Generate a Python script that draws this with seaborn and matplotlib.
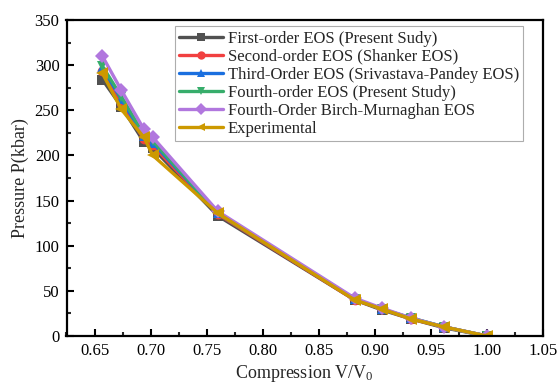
import numpy as np
import pandas as pd
import matplotlib
matplotlib.use("Agg")
import matplotlib.pyplot as plt
import seaborn as sns
from matplotlib.ticker import MultipleLocator

compression = [0.657, 0.674, 0.694, 0.702, 0.760, 0.882, 0.906, 0.932, 0.962, 1.000]

first_order = [284, 254, 215, 208, 133, 40, 29, 19, 9, 0]
second_order = [293, 258, 218, 211, 135, 40, 30, 19, 10, 0]
third_order = [297, 262, 221, 214, 136, 41, 30, 20, 10, 0]
fourth_order = [299, 265, 223, 216, 136, 41, 30, 20, 10, 0]
birch_murnaghan = [310, 272, 229, 220, 138, 42, 31, 20, 10, 0]
experimental = [291, 251, 220, 200, 136, 40, 30, 19, 10, 0]

labels = [
    "First-order EOS (Present Sudy)",
    "Second-order EOS (Shanker EOS)",
    "Third-Order EOS (Srivastava-Pandey EOS)",
    "Fourth-order EOS (Present Study)",
    "Fourth-Order Birch-Murnaghan EOS",
    "Experimental",
]
series = [first_order, second_order, third_order, fourth_order, birch_murnaghan, experimental]
colors = ["#515151", "#F14040", "#1A6FDF", "#37AD6B", "#B177DE", "#CC9900"]
markers = ["s", "o", "^", "v", "D", "<"]
msizes = [7, 7, 7, 7, 7, 8]

sns.set_style("white")
plt.rcParams["font.family"] = ["Liberation Serif", "DejaVu Serif"]
plt.rcParams["mathtext.fontset"] = "custom"
plt.rcParams["mathtext.rm"] = "Liberation Serif"
plt.rcParams["mathtext.it"] = "Liberation Serif:italic"

fig = plt.figure(figsize=(5.58, 3.83), dpi=100)
ax = fig.add_axes([66.5 / 558, 1 - 336 / 383, (543 - 66.5) / 558, (336 - 20) / 383])

frames = []
for lab, vals in zip(labels, series):
    frames.append(pd.DataFrame({"x": compression, "y": vals, "series": lab}))
df = pd.concat(frames, ignore_index=True)

for lab, col, mk, ms in zip(labels, colors, markers, msizes):
    sub = df[df["series"] == lab]
    sns.lineplot(data=sub, x="x", y="y", ax=ax, color=col, marker=mk,
                 markersize=ms, linewidth=2.4, markeredgewidth=0,
                 label=lab, sort=False, estimator=None)

ax.set_xlim(0.625, 1.05)
ax.set_ylim(0, 350)
ax.xaxis.set_minor_locator(MultipleLocator(0.025))
ax.yaxis.set_major_locator(MultipleLocator(50))
ax.yaxis.set_minor_locator(MultipleLocator(25))
ticks = np.arange(0.65, 1.051, 0.05)
ax.set_xticks(ticks)
ax.set_xticklabels([f"{v:.2f}" for v in ticks])
ax.tick_params(axis="both", which="major", direction="in", length=5, width=1.5,
               labelsize=12, colors="black", bottom=True, left=True, top=False, right=False, pad=5)
ax.tick_params(axis="both", which="minor", direction="in", length=3, width=1.5,
               bottom=True, left=True, top=False, right=False)
for sp in ax.spines.values():
    sp.set_linewidth(1.6)
    sp.set_color("black")

ax.set_xlabel("Compression V/V$_\\mathregular{0}$", fontsize=13, labelpad=3)
ax.set_ylabel("Pressure P(kbar)", fontsize=13, labelpad=4)

leg = ax.legend(loc="upper right", bbox_to_anchor=(0.965, 0.99), fontsize=12,
                frameon=True, fancybox=False, edgecolor="#999999", handlelength=2.6,
                labelspacing=0.12, borderpad=0.25, handletextpad=0.3, borderaxespad=0.2)
leg.get_frame().set_linewidth(0.8)
for h in leg.legend_handles:
    h.set_markersize(6)

fig.savefig("out.png", dpi=100)
